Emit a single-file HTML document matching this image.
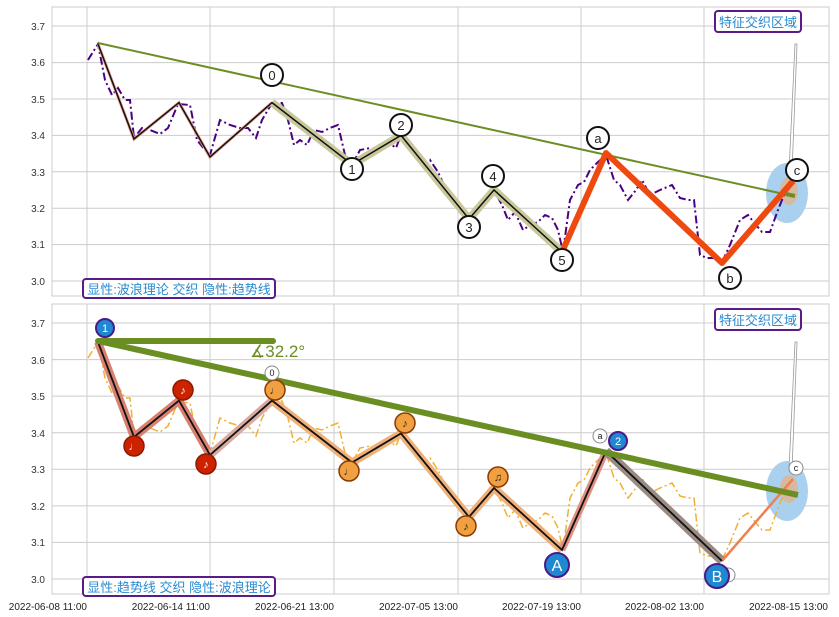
<!DOCTYPE html>
<html><head><meta charset="utf-8"><style>
body{margin:0;background:#fff}
svg{display:block;font-family:"Liberation Sans","Noto Sans CJK SC",sans-serif}
</style></head><body>
<svg width="839" height="617" viewBox="0 0 839 617">
<defs>
<polyline id="noise" points="88,60 98,44 105,80 112,95 118,88 125,100 130,100 134,138 142,128 150,130 160,134 168,128 178,104 190,105 197,140 205,150 210,155 220,120 230,125 240,128 248,128 256,138 262,120 272,103 282,103 288,120 294,145 300,140 307,145 314,130 322,132 330,128 338,125 345,155 352,165 360,150 370,148 378,152 388,142 396,148 401,135 410,150 418,160 425,165 430,160 438,172 444,185 452,202 460,206 469,218 476,210 485,204 494,190 502,205 508,220 515,212 523,230 530,225 538,222 545,215 552,218 558,230 563,252 570,200 578,185 584,182 590,170 598,162 606,155 614,180 620,185 628,200 636,190 642,180 650,195 660,190 672,185 680,198 688,200 694,200 700,255 707,258 716,258 722,262 730,245 740,220 748,215 756,225 762,232 770,232 778,210 786,190 793,182" fill="none"/>
</defs>
<!-- TOP PANEL -->
<rect x="52" y="7" width="777" height="289" fill="#fff" stroke="#ccc"/>
<g stroke="#ccc" stroke-width="1">
<line x1="52" x2="829" y1="26" y2="26"/><line x1="52" x2="829" y1="62.6" y2="62.6"/><line x1="52" x2="829" y1="99" y2="99"/><line x1="52" x2="829" y1="135.4" y2="135.4"/><line x1="52" x2="829" y1="171.8" y2="171.8"/><line x1="52" x2="829" y1="208.2" y2="208.2"/><line x1="52" x2="829" y1="244.6" y2="244.6"/><line x1="52" x2="829" y1="281" y2="281"/>
<line x1="87" x2="87" y1="7" y2="296"/><line x1="210" x2="210" y1="7" y2="296"/><line x1="334" x2="334" y1="7" y2="296"/><line x1="458" x2="458" y1="7" y2="296"/><line x1="581" x2="581" y1="7" y2="296"/><line x1="704" x2="704" y1="7" y2="296"/>
</g>
<g font-size="10" fill="#333" text-anchor="end">
<text x="45" y="30">3.7</text><text x="45" y="66">3.6</text><text x="45" y="103">3.5</text><text x="45" y="139">3.4</text><text x="45" y="176">3.3</text><text x="45" y="212">3.2</text><text x="45" y="248">3.1</text><text x="45" y="285">3.0</text>
</g>
<ellipse cx="787" cy="193" rx="21" ry="30" fill="#aad0f0"/>
<ellipse cx="789" cy="191" rx="9" ry="14" fill="#d8b8a0"/>
<use href="#noise" stroke="#4b0082" stroke-width="2" stroke-dasharray="8,3,2,3"/>
<polyline points="98,44 134,139 179,102.6 210,157 272,102.6" fill="none" stroke="#e8a090" stroke-width="3"/>
<polyline points="272,102.6 352,164.5 401,135.4 469,219 494,190 562,252" fill="none" stroke="#c8c89a" stroke-width="8" stroke-linejoin="round"/>
<polyline points="98,44 134,139 179,102.6 210,157 272,102.6 352,164.5 401,135.4 469,219 494,190 562,252" fill="none" stroke="#111" stroke-width="1.5"/>
<line x1="98" y1="43" x2="793" y2="196" stroke="#6b8e23" stroke-width="2"/>
<polyline points="562,252 606,153 722,263 793,181" fill="none" stroke="#ee4a10" stroke-width="6" stroke-linejoin="round"/>
<line x1="795" y1="196" x2="786" y2="194" stroke="#6b8e23" stroke-width="4"/>
<polygon points="795,44 797,44 792,172 789,172" fill="#fff" stroke="#999" stroke-width="0.8"/>
<g fill="#fff" stroke="#111" stroke-width="2">
<circle cx="272" cy="75" r="11"/><circle cx="352" cy="169" r="11"/><circle cx="401" cy="125" r="11"/><circle cx="469" cy="227" r="11"/><circle cx="493" cy="176" r="11"/><circle cx="562" cy="260" r="11"/><circle cx="598" cy="138" r="11"/><circle cx="730" cy="278" r="11"/><circle cx="797" cy="170" r="11"/>
</g>
<g font-size="13" fill="#222" text-anchor="middle">
<text x="272" y="80">0</text><text x="352" y="174">1</text><text x="401" y="130">2</text><text x="469" y="232">3</text><text x="493" y="181">4</text><text x="562" y="265">5</text><text x="598" y="143">a</text><text x="730" y="283">b</text><text x="797" y="175">c</text>
</g>
<rect x="715" y="11" width="86" height="21" rx="3" fill="#fff" stroke="#5a1a8a" stroke-width="2"/>
<text x="758" y="27" font-size="13" fill="#2a8ad0" text-anchor="middle">特征交织区域</text>
<rect x="83" y="279" width="192" height="19" rx="3" fill="#fff" stroke="#5a1a8a" stroke-width="2"/>
<text x="179" y="294" font-size="13" fill="#2a8ad0" text-anchor="middle">显性:波浪理论 交织 隐性:趋势线</text>

<!-- BOTTOM PANEL -->
<rect x="52" y="304" width="777" height="290" fill="#fff" stroke="#ccc"/>
<g stroke="#ccc" stroke-width="1">
<line x1="52" x2="829" y1="323" y2="323"/><line x1="52" x2="829" y1="359.6" y2="359.6"/><line x1="52" x2="829" y1="396.1" y2="396.1"/><line x1="52" x2="829" y1="432.7" y2="432.7"/><line x1="52" x2="829" y1="469.3" y2="469.3"/><line x1="52" x2="829" y1="505.9" y2="505.9"/><line x1="52" x2="829" y1="542.4" y2="542.4"/><line x1="52" x2="829" y1="579" y2="579"/>
<line x1="87" x2="87" y1="304" y2="594"/><line x1="210" x2="210" y1="304" y2="594"/><line x1="334" x2="334" y1="304" y2="594"/><line x1="458" x2="458" y1="304" y2="594"/><line x1="581" x2="581" y1="304" y2="594"/><line x1="704" x2="704" y1="304" y2="594"/>
</g>
<g font-size="10" fill="#333" text-anchor="end">
<text x="45" y="327">3.7</text><text x="45" y="364">3.6</text><text x="45" y="400">3.5</text><text x="45" y="437">3.4</text><text x="45" y="473">3.3</text><text x="45" y="510">3.2</text><text x="45" y="546">3.1</text><text x="45" y="583">3.0</text>
</g>
<g font-size="10" fill="#222" text-anchor="end">
<text x="87" y="610">2022-06-08 11:00</text><text x="210" y="610">2022-06-14 11:00</text><text x="334" y="610">2022-06-21 13:00</text><text x="458" y="610">2022-07-05 13:00</text><text x="581" y="610">2022-07-19 13:00</text><text x="704" y="610">2022-08-02 13:00</text><text x="828" y="610">2022-08-15 13:00</text>
</g>
<ellipse cx="787" cy="491" rx="21" ry="30" fill="#aad0f0"/>
<ellipse cx="789" cy="489" rx="9" ry="14" fill="#d8b8a0"/>
<g transform="translate(0,298)">
<use href="#noise" stroke="#f0b030" stroke-width="1.5" stroke-dasharray="8,3,2,3"/>
<polyline points="98,44 134,139 179,102.6 210,157" fill="none" stroke="#d98070" stroke-width="8" stroke-linejoin="round"/>
<polyline points="210,157 272,102.6" fill="none" stroke="#d8aaa0" stroke-width="8"/>
<polyline points="272,102.6 352,164.5 401,135.4 469,219 494,190 562,252" fill="none" stroke="#f0b078" stroke-width="8" stroke-linejoin="round"/>
<polyline points="562,252 606,153" fill="none" stroke="#e09080" stroke-width="7"/>
<polyline points="606,153 722,263" fill="none" stroke="#9a8a84" stroke-width="9"/>
<polyline points="722,263 793,181" fill="none" stroke="#f08050" stroke-width="2.5"/>
<polyline points="98,44 134,139 179,102.6 210,157 272,102.6 352,164.5 401,135.4 469,219 494,190 562,252 606,153 722,263" fill="none" stroke="#111" stroke-width="1.8"/>
</g>
<line x1="98" y1="341" x2="273" y2="341" stroke="#6b8e23" stroke-width="6" stroke-linecap="round"/>
<line x1="98" y1="341" x2="798" y2="495" stroke="#6b8e23" stroke-width="6"/>
<text x="250" y="357" font-size="17" fill="#6b8e23">∡32.2°</text>
<polygon points="795,342 797,342 792,470 789,470" fill="#fff" stroke="#999" stroke-width="0.8"/>
<g fill="#cc2200" stroke="#8a1a00" stroke-width="1.5">
<circle cx="134" cy="446" r="10"/><circle cx="183" cy="390" r="10"/><circle cx="206" cy="464" r="10"/>
</g>
<g fill="#f0a040" stroke="#8b3a00" stroke-width="1.5">
<circle cx="275" cy="390" r="10"/><circle cx="349" cy="471" r="10"/><circle cx="405" cy="423" r="10"/><circle cx="466" cy="526" r="10"/><circle cx="498" cy="477" r="10"/>
</g>
<g font-size="11" text-anchor="middle">
<text x="134" y="450" fill="#fff">♩</text><text x="183" y="394" fill="#fff">♪</text><text x="206" y="468" fill="#fff">♪</text>
<text x="275" y="394" fill="#222">♩</text><text x="349" y="475" fill="#222">♩</text><text x="405" y="427" fill="#222">♪</text><text x="466" y="530" fill="#222">♪</text><text x="498" y="481" fill="#222">♫</text>
</g>
<g fill="#fff" stroke="#888" stroke-width="1">
<circle cx="272" cy="373" r="7"/><circle cx="600" cy="436" r="7"/><circle cx="796" cy="468" r="7"/><circle cx="728" cy="575" r="7"/>
</g>
<g font-size="9" fill="#222" text-anchor="middle"><text x="272" y="376">0</text><text x="600" y="439">a</text><text x="796" y="471">c</text></g>
<g fill="#1e88d0" stroke="#4a1a8a" stroke-width="2">
<circle cx="105" cy="328" r="9"/><circle cx="618" cy="441" r="9"/><circle cx="557" cy="565" r="12"/><circle cx="717" cy="576" r="12"/>
</g>
<g fill="#fff" text-anchor="middle">
<text x="105" y="332" font-size="11">1</text><text x="618" y="445" font-size="11">2</text><text x="557" y="571" font-size="16">A</text><text x="717" y="582" font-size="16">B</text>
</g>
<rect x="715" y="309" width="86" height="21" rx="3" fill="#fff" stroke="#5a1a8a" stroke-width="2"/>
<text x="758" y="325" font-size="13" fill="#2a8ad0" text-anchor="middle">特征交织区域</text>
<rect x="83" y="577" width="192" height="19" rx="3" fill="#fff" stroke="#5a1a8a" stroke-width="2"/>
<text x="179" y="592" font-size="13" fill="#2a8ad0" text-anchor="middle">显性:趋势线 交织 隐性:波浪理论</text>
</svg>
</body></html>
